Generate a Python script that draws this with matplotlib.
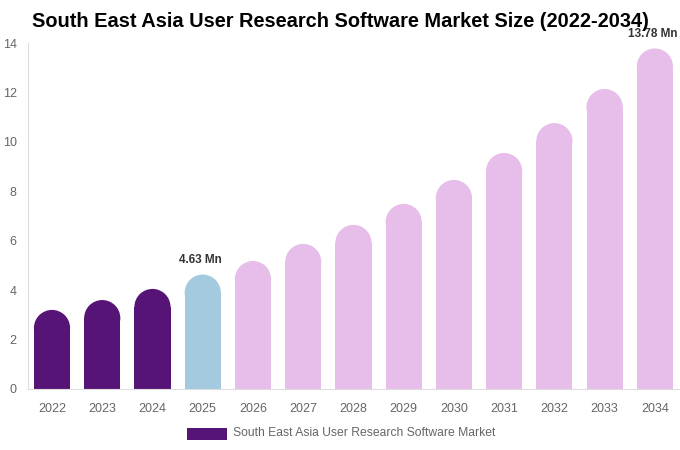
import matplotlib

matplotlib.use("Agg")

import matplotlib.pyplot as plt
from matplotlib.patches import Ellipse, Rectangle

YEARS = ["2022", "2023", "2024", "2025", "2026", "2027", "2028",
         "2029", "2030", "2031", "2032", "2033", "2034"]
VALUES = [3.20, 3.60, 4.05, 4.63, 5.18, 5.87, 6.64, 7.49, 8.46, 9.55, 10.76, 12.14, 13.78]
COLORS = ["#561476"] * 3 + ["#a4cadf"] + ["#e7bde9"] * 9
LABELED = {"2025": "4.63 Mn", "2034": "13.78 Mn"}
LEGEND_LABEL = "South East Asia User Research Software Market"

plt.rcParams["font.family"] = ["Liberation Sans", "DejaVu Sans"]

fig = plt.figure(figsize=(6.8, 4.5), dpi=100)
ax = fig.add_axes([0.041, 0.1356, 0.959, 0.7688])
ax.set_xlim(-0.48, 12.5)
ax.set_ylim(0, 14)

width = 0.72
# radius of the rounded cap, measured in data units on each axis
px_x = ax.bbox.width / (12.5 + 0.48)
px_y = ax.bbox.height / 14
r_px = width * px_x / 2
r_y = r_px / px_y

for i, (year, v, c) in enumerate(zip(YEARS, VALUES, COLORS)):
    ax.add_patch(Rectangle((i - width / 2, 0), width, v - r_y, facecolor=c, edgecolor="none"))
    ax.add_patch(Ellipse((i, v - r_y), width, 2 * r_y, facecolor=c, edgecolor="none"))
    if year in LABELED:
        ax.text(i - 0.05, v + 0.35, LABELED[year], ha="center", va="bottom",
                fontsize=8.5, fontweight="bold", color="#333333", clip_on=False)

ax.set_xticks(range(len(YEARS)))
ax.set_xticklabels(YEARS)
ax.set_yticks(range(0, 15, 2))
ax.tick_params(axis="both", length=0, labelsize=9, labelcolor="#666666")
ax.tick_params(axis="x", pad=10)
ax.tick_params(axis="y", pad=8)
for s in ["top", "right"]:
    ax.spines[s].set_visible(False)
for s in ["left", "bottom"]:
    ax.spines[s].set_color("#dddddd")
    ax.spines[s].set_linewidth(0.8)

fig.text(0.5, 0.953, "South East Asia User Research Software Market Size (2022-2034)",
         ha="center", va="center", fontsize=14.4, fontweight="bold", color="#000000")

fig.patches.append(Rectangle((187 / 680, 1 - 440 / 450), 40 / 680, 12 / 450,
                             facecolor="#561476", edgecolor="none", transform=fig.transFigure))
fig.text(233 / 680, 1 - 433 / 450, LEGEND_LABEL, ha="left", va="center",
         fontsize=8.7, color="#666666")

fig.savefig("out.png", dpi=100)
